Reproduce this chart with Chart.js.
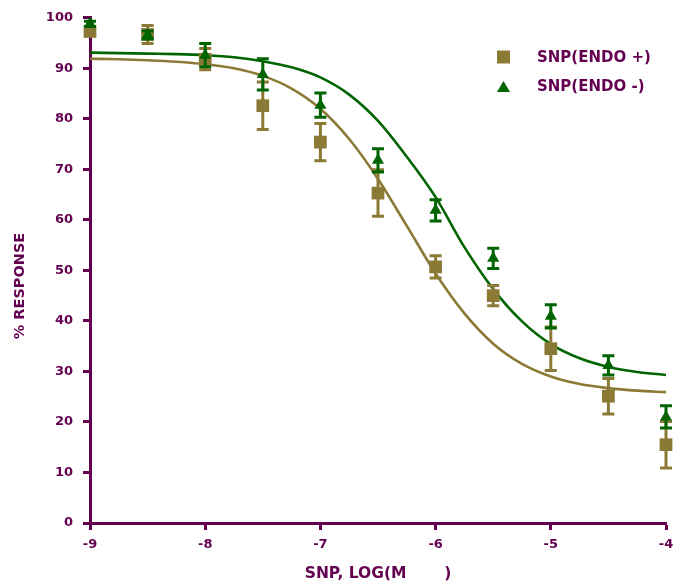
<!DOCTYPE html>
<html>
<head>
<meta charset="utf-8">
<title>SNP response</title>
<script src="https://cdn.jsdelivr.net/npm/chart.js@4.4.1/dist/chart.umd.min.js"></script>
<style>
  html, body { margin: 0; padding: 0; background: #fff; }
  #wrap { width: 681px; height: 584px; }
</style>
</head>
<body>
<div id="wrap"><canvas id="chart" width="681" height="584"></canvas></div>
<script>
// log dose of SNP
const doses = [-9, -8.5, -8, -7.5, -7, -6.5, -6, -5.5, -5, -4.5, -4];

// mean % response and error
const endoPlus = [97.3, 96.7, 91.8, 82.6, 75.4, 65.3, 50.7, 45.0, 34.5, 25.1, 15.5];
const endoPlusErr = [0.5, 1.8, 2.1, 4.7, 3.7, 4.6, 2.2, 2.0, 4.3, 3.5, 4.6];
const endoMinus = [98.8, 96.6, 92.6, 88.8, 82.7, 71.8, 61.9, 52.4, 40.9, 31.2, 21.0];
const endoMinusErr = [0.5, 0.8, 2.3, 3.1, 2.4, 2.3, 2.1, 2.0, 2.3, 1.9, 2.2];

// fitted curves, read at quarter steps
const fitX = [-9, -8.75, -8.5, -8.25, -8, -7.75, -7.5, -7.25, -7, -6.75, -6.5,
  -6.25, -6, -5.75, -5.5, -5.25, -5, -4.75, -4.5, -4.25, -4];
const fitPlus = [91.9, 91.8, 91.6, 91.3, 90.8, 90.0, 88.5, 86.0, 82.0, 76.0, 68.1,
  58.8, 49.4, 41.5, 35.5, 31.5, 29.0, 27.5, 26.7, 26.2, 25.9];
const fitMinus = [93.1, 93.0, 92.9, 92.8, 92.6, 92.2, 91.4, 90.2, 88.2, 84.8, 79.6,
  72.5, 64.5, 54.6, 46.3, 39.9, 35.4, 32.6, 30.9, 29.9, 29.3];

const xTicks = [-9, -8, -7, -6, -5, -4];
const legendLabels = ["SNP(ENDO +)", "SNP(ENDO -)"];

const purple = "#640050";
const olive = "#8b7a36";
const green = "#006400";
const fontFam = "'DejaVu Sans', sans-serif";

function toPoints(xs, ys) {
  return xs.map((x, i) => ({ x: x, y: ys[i] }));
}

// error bars drawn just under each marker set
const errorBars = {
  id: "errorBars",
  beforeDatasetDraw(chart, args) {
    const ds = chart.data.datasets[args.index];
    if (!ds.errors) return;
    const ctx = chart.ctx;
    const xs = chart.scales.x;
    const ys = chart.scales.y;
    ctx.save();
    ctx.strokeStyle = ds.backgroundColor;
    ctx.lineWidth = 3;
    ds.data.forEach((p, i) => {
      const px = xs.getPixelForValue(p.x);
      const top = ys.getPixelForValue(p.y + ds.errors[i]);
      const bot = ys.getPixelForValue(p.y - ds.errors[i]);
      ctx.beginPath();
      ctx.moveTo(px, top);
      ctx.lineTo(px, bot);
      ctx.moveTo(px - 6, top);
      ctx.lineTo(px + 6, top);
      ctx.moveTo(px - 6, bot);
      ctx.lineTo(px + 6, bot);
      ctx.stroke();
    });
    ctx.restore();
  }
};

// y title and legend
const extras = {
  id: "extras",
  afterDraw(chart) {
    const ctx = chart.ctx;
    ctx.save();
    ctx.fillStyle = purple;
    ctx.font = "bold 14.5px " + fontFam;
    ctx.textAlign = "center";
    ctx.textBaseline = "middle";
    ctx.translate(20, 286);
    ctx.rotate(-Math.PI / 2);
    ctx.fillText("% RESPONSE", 0, 0);
    ctx.restore();

    ctx.save();
    ctx.font = "bold 15px " + fontFam;
    ctx.textBaseline = "middle";
    ctx.fillStyle = olive;
    ctx.fillRect(497, 50.5, 13, 13);
    ctx.fillStyle = green;
    ctx.beginPath();
    ctx.moveTo(503.5, 81);
    ctx.lineTo(510, 92);
    ctx.lineTo(497, 92);
    ctx.closePath();
    ctx.fill();
    ctx.fillStyle = purple;
    ctx.fillText(legendLabels[0], 537, 58);
    ctx.fillText(legendLabels[1], 537, 87);
    ctx.restore();
  }
};

new Chart(document.getElementById("chart"), {
  type: "scatter",
  data: {
    datasets: [
      {
        label: legendLabels[1],
        data: toPoints(doses, endoMinus),
        errors: endoMinusErr,
        pointStyle: "triangle",
        pointRadius: 7,
        backgroundColor: green,
        borderWidth: 0,
        clip: false
      },
      {
        label: legendLabels[0],
        data: toPoints(doses, endoPlus),
        errors: endoPlusErr,
        pointStyle: "rect",
        pointRadius: 9,
        backgroundColor: olive,
        borderWidth: 0,
        clip: false
      },
      {
        label: "fit -",
        data: toPoints(fitX, fitMinus),
        showLine: true,
        pointRadius: 0,
        borderColor: green,
        borderWidth: 2.6,
        cubicInterpolationMode: "monotone"
      },
      {
        label: "fit +",
        data: toPoints(fitX, fitPlus),
        showLine: true,
        pointRadius: 0,
        borderColor: olive,
        borderWidth: 2.6,
        cubicInterpolationMode: "monotone"
      }
    ]
  },
  options: {
    responsive: false,
    animation: false,
    layout: { padding: { top: 15, right: 15, left: 0, bottom: 0 } },
    plugins: {
      legend: { display: false },
      tooltip: { enabled: false }
    },
    scales: {
      x: {
        type: "linear",
        min: -9,
        max: -4,
        afterBuildTicks: scale => {
          scale.ticks = xTicks.map(v => ({ value: v }));
        },
        afterFit: scale => { scale.height = 61; },
        ticks: {
          color: purple,
          font: { family: fontFam, weight: "bold", size: 13 },
          padding: 7,
          maxRotation: 0
        },
        grid: {
          drawOnChartArea: false,
          tickLength: 7,
          tickWidth: 3,
          tickColor: purple
        },
        border: { display: true, color: purple, width: 3 },
        title: {
          display: true,
          text: "SNP, LOG(M       )",
          color: purple,
          font: { family: fontFam, weight: "bold", size: 15.5 },
          padding: { top: 0, bottom: 1 }
        }
      },
      y: {
        min: 0,
        max: 100,
        afterFit: scale => { scale.width = 90; },
        ticks: {
          stepSize: 10,
          color: purple,
          font: { family: fontFam, weight: "bold", size: 13 },
          padding: 10
        },
        grid: {
          drawOnChartArea: false,
          tickLength: 7,
          tickWidth: 3,
          tickColor: purple
        },
        border: { display: true, color: purple, width: 3 }
      }
    }
  },
  plugins: [errorBars, extras]
});
</script>
</body>
</html>
